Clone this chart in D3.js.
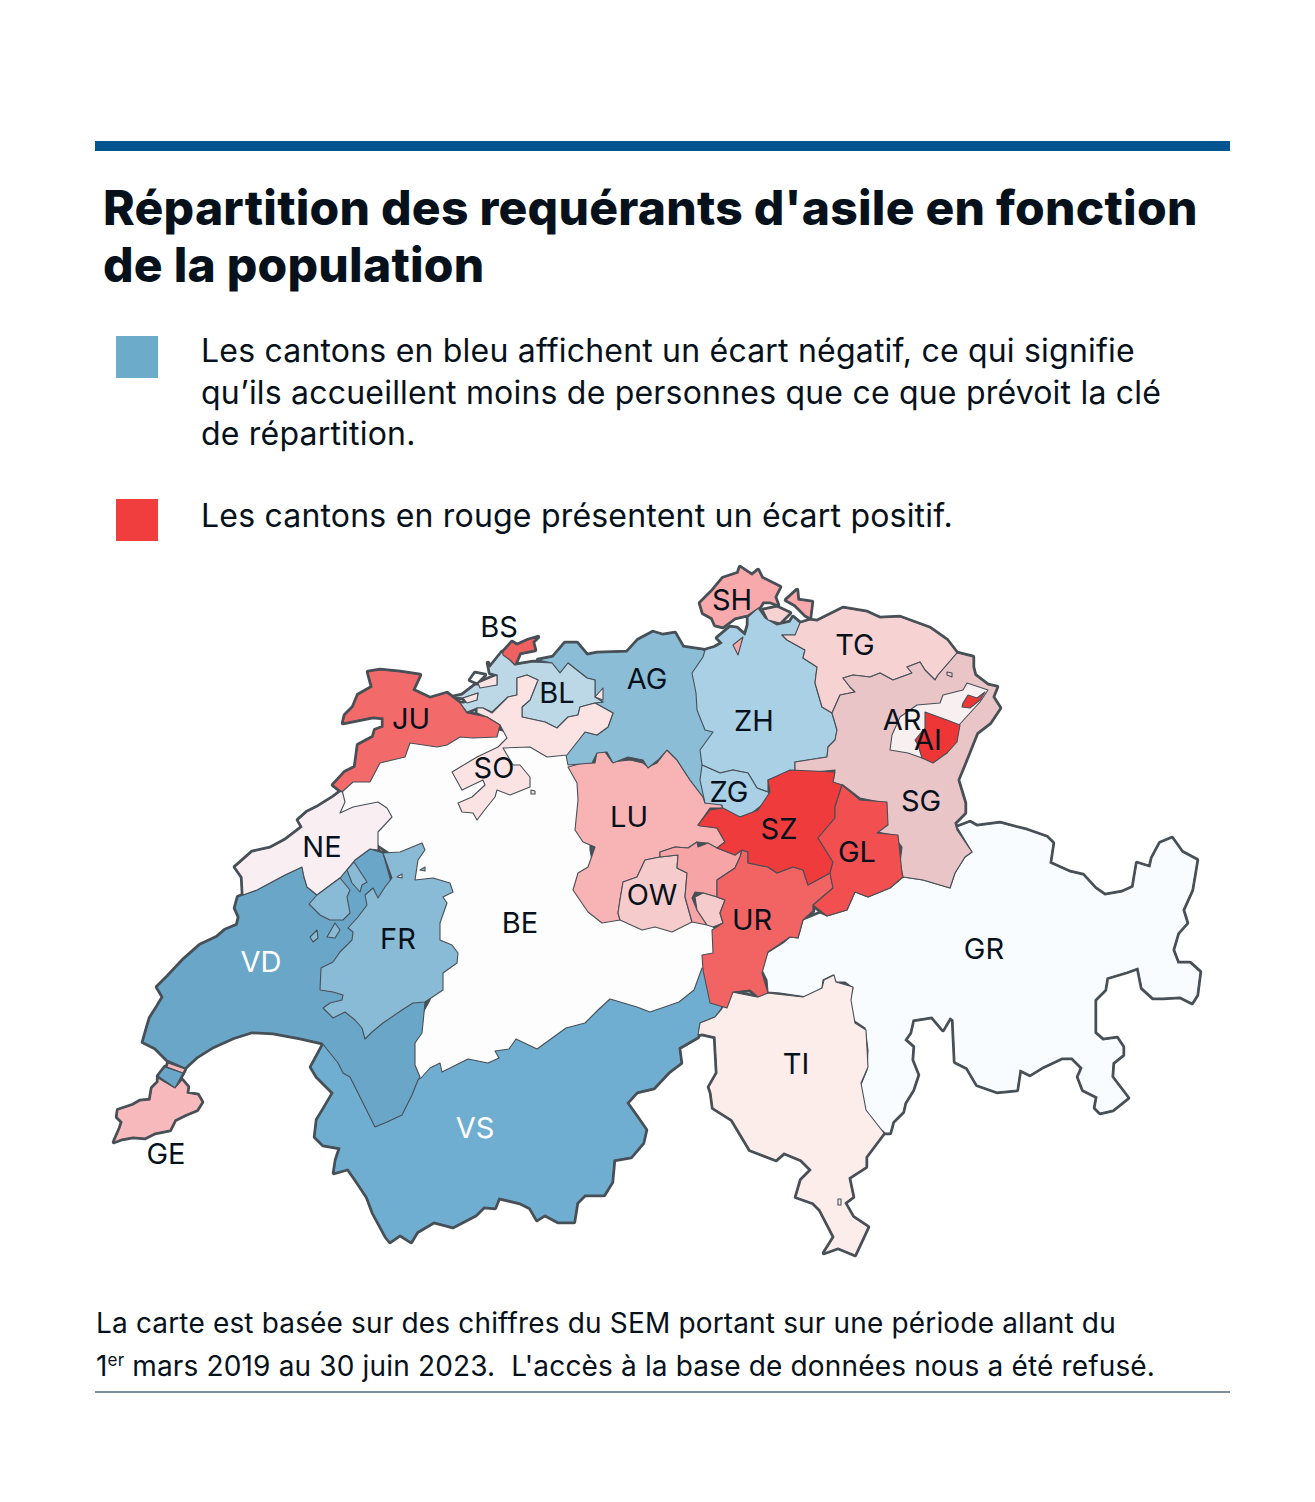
<!DOCTYPE html>
<html lang="fr">
<head>
<meta charset="utf-8">
<title>Répartition des requérants d'asile</title>
<script src="https://cdn.jsdelivr.net/npm/d3@7"></script>
<style>
  html, body { margin: 0; background: #fff; }
  svg { display: block; }
  text { font-family: Inter, "Noto Sans", sans-serif; fill: #06111b; white-space: pre; }
</style>
</head>
<body>
<svg id="chart" width="1315" height="1502"></svg>
<script>
const titleLines = ["Répartition des requérants d'asile en fonction", "de la population"];
const legendBlue = ["Les cantons en bleu affichent un écart négatif, ce qui signifie",
  "qu’ils accueillent moins de personnes que ce que prévoit la clé", "de répartition."];
const legendRed = ["Les cantons en rouge présentent un écart positif."];
const noteFirst = "La carte est basée sur des chiffres du SEM portant sur une période allant du";
const noteSecond = " mars 2019 au 30 juin 2023.  L'accès à la base de données nous a été refusé.";

const cantons = ["VS","VD","FR","AG","ZH","ZG","BL","BE","GR","NE","AR","TI","SO","TG","SG","OW","GE","LU","NW","SH","BS","JU","UR","GL","SZ","AI"];
const cantonFills = ["#70aed1","#6aa6c8","#8abbd6","#8cbdd7","#a9d0e5","#a9d0e5","#bcd8e6","#fdfdfd","#f8fcff","#f9eff2","#f8eff0","#fcecea","#fbe3e3","#f6d2d3","#e9c5c8","#f5cccb","#f7b9bb","#f8b4b5","#f6a4a5","#f7a9ab","#ef6060","#f26a6a","#f26464","#f25050","#f03b3c","#ee3637"];

const cantonOutlines = [
  ["BE", [[345,775],[342,795],[335,812],[360,820],[370,840],[400,860],[430,900],[440,950],[430,1000],[408,1040],[408,1080],[440,1090],[520,1060],[650,1030],[705,1000],[720,975],[720,935],[707,920],[690,915],[640,915],[600,905],[590,850],[590,790],[580,760],[567,745],[540,740],[490,728],[430,735],[400,745]]],
  ["GR", [[957,827],[970,822],[977,826],[1000,823],[1027,830],[1047,837],[1053,843],[1050,863],[1070,872],[1083,875],[1095,888],[1105,895],[1122,892],[1133,887],[1137,863],[1150,867],[1152,858],[1160,843],[1172,838],[1182,852],[1197,860],[1192,890],[1183,910],[1187,923],[1178,933],[1173,950],[1178,963],[1190,963],[1200,972],[1197,995],[1192,1003],[1180,997],[1163,998],[1153,998],[1142,988],[1138,968],[1127,972],[1107,978],[1105,990],[1095,1000],[1095,1033],[1103,1040],[1117,1038],[1123,1047],[1123,1055],[1113,1063],[1112,1077],[1128,1098],[1113,1110],[1100,1113],[1095,1108],[1097,1097],[1083,1090],[1078,1077],[1082,1068],[1072,1058],[1062,1058],[1043,1067],[1030,1075],[1020,1070],[1017,1090],[997,1092],[977,1085],[967,1068],[955,1062],[953,1020],[950,1018],[943,1030],[932,1017],[913,1020],[910,1033],[905,1040],[913,1047],[912,1060],[918,1075],[913,1090],[905,1103],[903,1112],[893,1122],[890,1133],[885,1133],[878,1127],[863,1110],[858,1092],[867,1070],[868,1050],[865,1028],[853,1020],[848,1008],[853,988],[845,982],[835,982],[833,975],[823,980],[822,988],[807,997],[780,993],[768,992],[767,980],[762,970],[767,953],[783,943],[790,937],[798,938],[803,920],[820,913],[827,916],[847,910],[855,892],[868,897],[890,888],[903,877],[923,880],[950,888],[955,873],[965,857],[972,852]]],
  ["VS", [[324,1043],[311,1067],[317,1077],[333,1093],[323,1110],[317,1120],[315,1137],[323,1145],[340,1148],[336,1160],[334,1173],[348,1169],[357,1182],[367,1197],[373,1213],[386,1237],[390,1242],[400,1235],[411,1242],[417,1232],[434,1222],[453,1227],[476,1215],[484,1207],[495,1208],[499,1198],[520,1203],[530,1208],[537,1220],[545,1215],[558,1222],[574,1222],[577,1203],[585,1195],[604,1195],[612,1182],[614,1160],[631,1157],[643,1143],[646,1130],[637,1117],[627,1103],[637,1092],[654,1088],[669,1072],[681,1063],[679,1048],[698,1037],[700,1023],[715,1017],[721,1009],[725,1000],[720,975],[702,968],[694,990],[679,1002],[650,1012],[637,1007],[610,999],[598,1010],[585,1023],[566,1028],[537,1049],[516,1039],[509,1049],[495,1051],[499,1058],[488,1063],[468,1059],[442,1072],[440,1063],[430,1068],[421,1078],[390,1090],[340,1060]]],
  ["TI", [[721,1010],[732,992],[757,997],[767,993],[803,997],[822,988],[824,980],[834,975],[836,982],[853,987],[851,1000],[855,1023],[866,1030],[868,1067],[861,1083],[866,1110],[884,1133],[866,1157],[866,1167],[849,1178],[853,1197],[845,1203],[853,1217],[868,1227],[855,1255],[843,1250],[838,1248],[824,1253],[834,1237],[820,1210],[813,1203],[796,1197],[801,1180],[811,1170],[801,1160],[784,1153],[776,1160],[750,1150],[732,1120],[713,1108],[711,1093],[709,1087],[717,1073],[715,1037],[702,1034],[698,1035],[700,1023],[715,1017]]],
  ["TI", [[838,1199],[841,1199],[841,1205],[838,1205]]],
  ["VD", [[302,867],[285,875],[270,883],[257,890],[243,895],[238,897],[235,908],[239,917],[237,925],[225,930],[217,937],[200,945],[183,960],[167,977],[157,987],[163,997],[157,1007],[150,1018],[147,1028],[143,1042],[155,1048],[167,1060],[185,1068],[197,1057],[213,1047],[233,1038],[252,1032],[273,1033],[300,1038],[322,1043],[330,1053],[338,1063],[343,1073],[350,1077],[360,1097],[375,1127],[387,1122],[402,1115],[412,1095],[418,1080],[420,1077],[415,1065],[415,1043],[422,1033],[425,1003],[400,950],[390,878],[383,853],[370,849],[355,860],[340,878],[317,895],[307,887],[304,877]]],
  ["VD", [[158,1076],[165,1067],[183,1073],[175,1088]]],
  ["GE", [[168,1063],[185,1069],[183,1073],[167,1067]]],
  ["GE", [[158,1078],[175,1088],[182,1080],[188,1087],[187,1093],[198,1095],[202,1102],[197,1110],[185,1115],[175,1120],[170,1130],[155,1133],[145,1138],[133,1137],[122,1139],[114,1142],[120,1128],[122,1122],[117,1117],[118,1110],[133,1105],[140,1101],[150,1100],[152,1088],[158,1082]]],
  ["NE", [[345,788],[333,797],[317,807],[307,812],[298,820],[302,827],[285,840],[270,848],[252,852],[243,860],[235,867],[242,877],[243,895],[257,890],[270,883],[285,875],[302,867],[304,877],[307,887],[317,895],[340,878],[355,860],[370,849],[378,850],[378,832],[392,817],[387,808],[378,802],[353,807],[340,813],[345,802],[342,790]]],
  ["FR", [[383,853],[400,852],[422,843],[425,850],[418,860],[415,880],[433,878],[450,883],[453,892],[443,897],[447,903],[440,923],[440,940],[452,945],[458,953],[457,963],[443,973],[443,990],[425,1002],[413,1003],[402,1010],[383,1023],[372,1032],[365,1039],[362,1028],[355,1020],[345,1012],[333,1018],[323,1008],[330,1003],[342,1000],[343,995],[333,992],[320,990],[321,968],[333,962],[340,952],[352,940],[353,932],[348,928],[358,917],[367,905],[365,895],[373,888],[378,898],[385,887],[392,878]]],
  ["FR", [[309,904],[317,895],[340,878],[350,890],[347,897],[350,913],[343,920],[330,920],[320,915]]],
  ["FR", [[347,870],[354,862],[367,882],[362,885],[360,892],[352,883]]],
  ["FR", [[310,937],[317,930],[318,938],[313,942]]],
  ["FR", [[327,937],[335,923],[340,930],[335,938]]],
  ["FR", [[420,870],[425,867],[425,871]]],
  ["BE", [[397,877],[402,874],[402,878]]],
  ["LU", [[568,767],[583,763],[595,763],[597,752],[605,752],[612,762],[630,760],[643,763],[648,767],[657,763],[667,750],[677,760],[690,780],[703,797],[705,803],[720,803],[723,808],[710,808],[698,825],[717,828],[725,842],[717,848],[707,843],[697,842],[688,848],[675,847],[660,852],[660,857],[645,860],[637,877],[623,882],[620,900],[618,913],[620,920],[602,923],[588,912],[573,890],[578,873],[588,867],[595,847],[583,842],[575,830],[578,800],[577,783]]],
  ["AG", [[538,660],[553,657],[565,643],[577,643],[587,655],[597,653],[627,652],[638,640],[653,632],[663,635],[675,633],[683,647],[703,650],[720,660],[720,770],[712,790],[705,800],[703,797],[690,780],[677,760],[667,750],[658,760],[648,768],[643,760],[628,757],[613,763],[607,752],[597,753],[592,763],[568,765],[566,755],[585,732],[597,735],[608,727],[613,713],[595,703],[603,702],[595,697],[595,680],[587,678],[568,663],[560,673],[552,663]]],
  ["BL", [[490,667],[502,652],[515,665],[533,662],[552,663],[560,673],[568,663],[587,678],[595,680],[595,697],[603,702],[595,703],[580,707],[578,715],[568,717],[557,728],[545,722],[522,717],[522,707],[530,700],[538,680],[527,675],[517,678],[517,695],[508,697],[492,712],[483,708],[477,708],[467,712],[460,703],[463,703],[477,700],[478,693],[463,698],[453,697],[462,695],[475,685],[497,685],[497,675],[490,673],[488,663]]],
  ["BE", [[470,680],[475,673],[485,675],[477,683]]],
  ["SO", [[477,708],[483,708],[492,713],[508,697],[517,695],[517,678],[527,675],[538,680],[530,700],[522,707],[522,717],[545,722],[557,728],[568,717],[578,715],[580,707],[595,703],[613,713],[608,727],[597,735],[585,732],[567,755],[547,757],[530,747],[503,748],[513,765],[520,765],[530,777],[530,787],[510,795],[497,790],[495,797],[483,812],[477,820],[473,813],[462,812],[458,803],[472,797],[485,785],[483,780],[462,790],[452,772],[477,757],[498,747],[507,738],[500,725],[487,717],[477,713]]],
  ["SO", [[463,698],[478,693],[477,700],[467,703]]],
  ["SO", [[478,683],[497,675],[497,685],[480,688]]],
  ["SO", [[595,697],[603,688],[603,700]]],
  ["SO", [[531,790],[535,791],[535,794],[531,794]]],
  ["BS", [[503,652],[512,642],[517,645],[528,640],[538,637],[533,642],[535,650],[520,653],[515,665],[510,660],[503,655]]],
  ["JU", [[333,785],[345,772],[355,767],[358,745],[373,737],[375,730],[383,727],[383,718],[373,717],[343,723],[345,715],[353,707],[358,695],[372,687],[368,672],[380,670],[400,672],[420,675],[413,690],[430,698],[447,693],[460,703],[467,713],[487,717],[500,725],[497,737],[473,738],[460,737],[447,745],[437,747],[410,743],[405,757],[380,763],[370,782],[353,782],[342,792]]],
  ["ZH", [[705,650],[715,647],[722,643],[717,638],[730,627],[737,628],[745,635],[748,625],[748,617],[758,608],[765,618],[777,625],[790,622],[793,617],[800,623],[797,635],[782,635],[787,640],[805,650],[803,658],[817,667],[815,683],[822,707],[832,713],[837,730],[835,740],[828,747],[827,757],[795,762],[795,770],[768,780],[768,792],[757,788],[748,773],[733,770],[720,773],[702,765],[700,750],[713,732],[705,730],[697,710],[696,693],[692,673],[703,657]]],
  ["ZG", [[702,765],[720,773],[733,770],[748,773],[757,788],[768,792],[770,795],[762,805],[752,813],[740,817],[723,812],[722,805],[705,803],[700,780]]],
  ["SH", [[700,603],[713,590],[723,578],[738,573],[740,567],[752,575],[758,570],[762,578],[780,587],[775,597],[778,605],[770,602],[763,602],[760,607],[748,615],[735,618],[723,627],[715,625],[712,618],[703,613]]],
  ["SH", [[786,600],[797,590],[798,600],[812,602],[810,618],[805,615],[795,605]]],
  ["SH", [[733,645],[743,637],[738,655]]],
  ["TG", [[763,610],[777,607],[790,613],[780,623],[768,620]]],
  ["TG", [[795,635],[800,623],[810,620],[817,621],[843,608],[867,612],[880,618],[900,617],[930,628],[947,640],[957,653],[938,675],[935,680],[925,670],[920,662],[907,667],[912,673],[893,680],[880,673],[870,677],[853,675],[843,678],[850,687],[855,692],[840,695],[832,713],[822,707],[815,683],[817,667],[803,658],[805,650],[787,640],[782,635]]],
  ["SG", [[957,653],[973,657],[973,667],[975,675],[988,685],[997,687],[993,697],[1000,708],[990,723],[977,733],[965,763],[958,780],[965,803],[965,813],[955,823],[957,830],[972,852],[965,857],[955,873],[950,888],[923,880],[903,877],[900,863],[902,847],[893,835],[877,832],[887,823],[885,803],[860,798],[843,785],[833,783],[835,770],[805,773],[795,770],[795,762],[827,757],[828,747],[835,740],[837,730],[832,713],[840,695],[855,692],[850,687],[843,678],[853,675],[870,677],[880,673],[893,680],[912,673],[907,667],[920,662],[925,670],[935,680],[938,675]]],
  ["TG", [[947,672],[952,673],[952,677],[947,675]]],
  ["AR", [[892,735],[900,717],[917,705],[940,703],[943,695],[963,690],[967,683],[988,690],[980,702],[959,725],[947,753],[922,758],[908,753],[890,750]]],
  ["AI", [[925,712],[947,720],[960,725],[957,742],[947,753],[933,763],[922,758],[918,745],[915,740],[925,728]]],
  ["AI", [[963,703],[968,695],[977,698],[985,692],[980,700],[970,708],[962,707]]],
  ["OW", [[620,920],[618,913],[620,900],[623,882],[637,877],[645,860],[660,857],[678,855],[677,868],[687,873],[685,897],[692,922],[672,932],[655,927],[642,930]]],
  ["NW", [[660,852],[675,847],[688,848],[697,842],[698,847],[708,843],[717,848],[735,855],[742,850],[740,857],[735,868],[717,880],[717,897],[703,893],[695,892],[692,898],[697,910],[707,925],[692,922],[685,897],[687,873],[677,868],[678,855],[660,857]]],
  ["OW", [[695,897],[703,893],[717,897],[725,900],[720,913],[723,923],[713,927],[707,925],[697,910]]],
  ["UR", [[742,850],[748,852],[748,863],[768,867],[777,873],[793,867],[803,870],[808,885],[830,873],[833,888],[813,905],[813,911],[803,920],[798,938],[790,937],[768,952],[762,973],[768,993],[758,997],[750,990],[733,992],[727,1008],[710,1003],[703,970],[702,955],[713,953],[712,930],[723,923],[720,913],[725,900],[717,897],[717,880],[735,868],[740,857]]],
  ["SZ", [[698,825],[710,810],[723,808],[740,817],[758,810],[770,792],[768,780],[790,770],[835,772],[833,782],[842,785],[835,807],[835,818],[818,838],[833,862],[830,873],[808,885],[803,870],[793,867],[777,873],[768,867],[748,863],[748,852],[742,850],[735,855],[717,848],[725,842],[717,828],[700,826]]],
  ["GL", [[842,785],[860,800],[887,802],[888,825],[877,833],[898,835],[902,873],[903,877],[890,888],[868,897],[855,892],[847,910],[827,916],[813,905],[833,888],[830,873],[833,862],[818,838],[835,818],[835,807]]]
];

const labelNames = ["SH","BS","TG","AG","BL","JU","AR","AI","ZH","SO","ZG","SG","LU","SZ","NE","GL","OW","BE","UR","FR","GR","VD","TI","VS","GE"];
const labelAnchors = [[732,600],[499,627],[855,645],[647,679],[557,693],[411,719],[902,720],[928,740],[754,721],[494,768],[729,792],[921,801],[629,817],[779,829],[322,847],[857,852],[652,895],[520,923],[752,920],[398,939],[984,949],[261,962],[796,1064],[475,1128],[166,1154]];
const whiteLabels = ["VD","VS"];

const svg = d3.select("#chart");
const ink = "#06111b";
const borderColor = "#474f56";

// frame rules
svg.append("rect").attr("x", 95).attr("y", 141).attr("width", 1135).attr("height", 10).attr("fill", "#04548f");
svg.append("rect").attr("x", 95).attr("y", 1391).attr("width", 1135).attr("height", 2).attr("fill", "#7f8c9c");

// title
svg.selectAll("text.title").data(titleLines).join("text")
  .attr("class", "title")
  .attr("x", 103)
  .attr("y", (d, i) => 225 + i * 57)
  .attr("font-size", 48)
  .attr("font-weight", 800)
  .attr("letter-spacing", 0.24)
  .text(d => d);

// legend
function legendBlock(lines, color, squareY, firstBaseline) {
  svg.append("rect").attr("x", 116).attr("y", squareY).attr("width", 42).attr("height", 42).attr("fill", color);
  svg.append("g").selectAll("text").data(lines).join("text")
    .attr("x", 201)
    .attr("y", (d, i) => firstBaseline + i * 41.5)
    .attr("font-size", 32)
    .attr("letter-spacing", 0.2)
    .text(d => d);
}
legendBlock(legendBlue, "#6dabca", 336, 362);
legendBlock(legendRed, "#f03d3e", 499, 527);

// map
const fillScale = d3.scaleOrdinal().domain(cantons).range(cantonFills);
const features = cantonOutlines.map(([id, ring]) => ({
  type: "Feature",
  properties: { id },
  geometry: { type: "Polygon", coordinates: [[...ring, ring[0]]] }
}));
const projection = d3.geoIdentity()
  .fitExtent([[114, 567], [1200, 1255]], { type: "FeatureCollection", features });
const path = d3.geoPath(projection);

const map = svg.append("g");
// thick pass: only the outer half stays visible once the fills are painted on top
map.append("g").selectAll("path").data(features).join("path")
  .attr("d", path)
  .attr("fill", "none")
  .attr("stroke", borderColor)
  .attr("stroke-width", 4.4)
  .attr("stroke-linejoin", "round");
map.append("g").selectAll("path").data(features).join("path")
  .attr("d", path)
  .attr("fill", d => fillScale(d.properties.id))
  .attr("stroke", borderColor)
  .attr("stroke-width", 1.1)
  .attr("stroke-linejoin", "round");

map.append("g").selectAll("text").data(labelNames).join("text")
  .attr("transform", (d, i) => `translate(${projection(labelAnchors[i])})`)
  .attr("text-anchor", "middle")
  .attr("dy", "0.36em")
  .attr("font-size", 29)
  .style("fill", d => whiteLabels.includes(d) ? "#fff" : ink)
  .text(d => d);

// footnote
svg.append("text").attr("x", 96).attr("y", 1333).attr("font-size", 28).attr("letter-spacing", 0.16).text(noteFirst);
const second = svg.append("text").attr("x", 96).attr("y", 1376).attr("font-size", 28).attr("letter-spacing", 0.16);
second.append("tspan").text("1");
second.append("tspan").attr("font-size", 17).attr("dy", -10).text("er");
second.append("tspan").attr("dy", 10).text(noteSecond);
</script>
</body>
</html>
